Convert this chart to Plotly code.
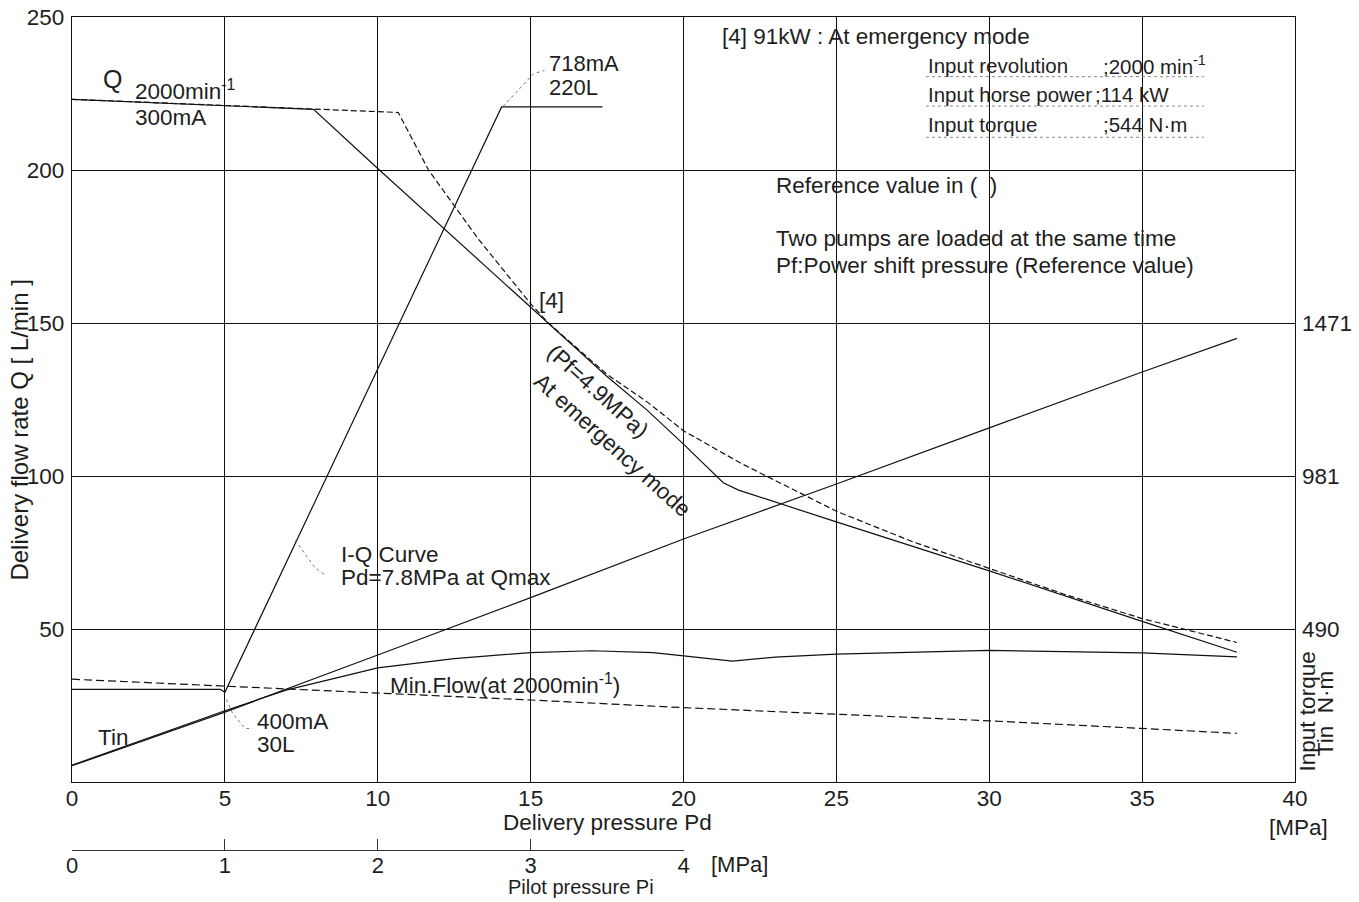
import plotly.graph_objects as go

# ---------------- data ----------------
pd_ticks = [0, 5, 10, 15, 20, 25, 30, 35, 40]
q_ticks = [50, 100, 150, 200, 250]
torque_tickvals = [490.35, 980.7, 1471.05]
torque_ticktext = ["490", "981", "1471"]
pilot_ticks = [0, 1, 2, 3, 4]

# Q curve at emergency mode (solid)
q_solid_x = [0, 7.9, 10, 12.5, 15, 15.58, 17.5, 18.8, 20, 21.3, 21.8, 25, 30, 35, 38.1]
q_solid_y = [223.1, 219.8, 200.5, 177.8, 155.2, 150.0, 132.5, 121.6, 110.4, 97.8, 95.4, 85.0, 69.0, 52.5, 42.4]

# Q curve reference (dashed)
q_dash_x = [0, 10.67, 11.66, 13.3, 15, 15.58, 17.5, 18.8, 20, 21.85, 25, 27.5, 30, 32.5, 35, 38.1]
q_dash_y = [223.1, 218.8, 200.0, 177.3, 156.3, 150.0, 133.2, 124.3, 114.8, 104.3, 88.5, 78.5, 69.8, 61.2, 53.4, 45.6]

# I-Q curve
iq_x = [0, 4.85, 5.0, 14.05, 17.35]
iq_y = [30.3, 30.3, 29.3, 220.6, 220.6]

# Min flow (solid)
mf_x = [0, 3, 5, 7, 8, 9.1, 10, 12.5, 15, 17, 19, 20, 21.6, 23, 25, 30, 35, 38.1]
mf_y = [5.5, 16.2, 23.3, 30.0, 32.5, 35.3, 37.3, 40.3, 42.3, 42.9, 42.3, 41.2, 39.5, 40.8, 41.8, 43.0, 42.2, 40.9]

# Min flow (dashed)
mfd_x = [0, 5, 10, 15, 20, 25, 30, 35, 38.1]
mfd_y = [33.6, 31.4, 29.0, 26.8, 24.3, 22.2, 20.0, 17.5, 15.9]

# Input torque Tin [N·m]
tin_x = [0, 5, 10, 15, 20, 25, 30, 35, 38.1]
tin_nm = [52, 224, 407, 591, 779, 955, 1135, 1314, 1422]

FONT = "Liberation Sans, Arial, sans-serif"
TXT = "#1e1e1e"
LINE = "#111111"

fig = go.Figure()

def line(x, y, dash="solid", width=1.2, color=LINE, yaxis="y"):
    fig.add_trace(go.Scatter(x=x, y=y, mode="lines", yaxis=yaxis,
                             line=dict(color=color, width=width, dash=dash),
                             hoverinfo="skip", showlegend=False))

line(q_solid_x, q_solid_y)
line(q_dash_x, q_dash_y, dash="6px,3px")
line(iq_x, iq_y)
line(mf_x, mf_y)
line(mfd_x, mfd_y, dash="8px,4px")
line(tin_x, tin_nm, yaxis="y2")

# invisible trace to build the pilot pressure axis
fig.add_trace(go.Scatter(x=[0], y=[-100], xaxis="x2", yaxis="y", mode="markers",
                         marker=dict(opacity=0), hoverinfo="skip", showlegend=False))

# leader lines (dotted)
leaders = [
    ([14.1, 15.1, 15.45], [220.8, 231.5, 232.5]),
    ([7.3, 7.95, 8.3], [79.0, 70.0, 67.5]),
    ([5.05, 5.25, 5.66, 5.9], [27.0, 22.5, 17.5, 17.5]),
]
for lx, ly in leaders:
    line(lx, ly, dash="dot", width=1, color="#777777")

# dotted underlines of the table
for uy in [230.5, 220.9, 210.7]:
    line([27.93, 37.02], [uy, uy], dash="dot", width=1, color="#888888")

ann = []
def txt(x, y, s, size=22.5, xanchor="left", yanchor="middle", angle=0, xref="x", yref="y"):
    ann.append(dict(x=x, y=y, xref=xref, yref=yref, text=s, showarrow=False,
                    xanchor=xanchor, yanchor=yanchor, textangle=angle,
                    font=dict(family=FONT, size=size, color=TXT)))

txt(0.95, 229.9, "Q", size=25)
txt(2.0, 226.3, "2000min<sup>-1</sup>")
txt(2.0, 217.2, "300mA")
txt(15.55, 234.8, "718mA", size=22)
txt(15.55, 227.1, "220L", size=22)
txt(21.2, 243.6, "[4] 91kW : At emergency mode")
txt(27.93, 234.0, "Input revolution", size=20.5)
txt(33.66, 234.3, ";2000 min<sup>-1</sup>", size=20.5)
txt(27.93, 224.6, "Input horse power", size=20.5)
txt(33.39, 224.6, ";114 kW", size=20.5)
txt(27.93, 214.8, "Input torque", size=20.5)
txt(33.66, 214.8, ";544 N·m", size=20.5)
txt(22.95, 194.8, "Reference value in (  )")
txt(22.95, 177.6, "Two pumps are loaded at the same time")
txt(22.95, 168.8, "Pf:Power shift pressure (Reference value)")
txt(15.2, 157.5, "[4]")
txt(17.2, 127.5, "(Pf=4.9MPa)", xanchor="center", angle=42)
txt(17.69, 110.1, "At emergency mode", xanchor="center", angle=42)
txt(8.73, 74.3, "I-Q Curve")
txt(8.73, 66.8, "Pd=7.8MPa at Qmax")
txt(10.34, 32.0, "Min.Flow(at 2000min<sup>-1</sup>)")
txt(0.8, 14.7, "Tin")
txt(5.99, 19.7, "400mA")
txt(5.99, 12.1, "30L")

# outside texts (paper coords)
txt(0.4375, 0.0336, "Delivery pressure Pd", xanchor="center", xref="paper", yref="paper")
txt(1.0025, 0.0276, "[MPa]", xanchor="center", xref="paper", yref="paper")
txt(0.5209, -0.0175, "[MPa]", size=22, xref="paper", yref="paper")
txt(0.4162, -0.0445, "Pilot pressure Pi", size=20, xanchor="center", xref="paper", yref="paper")
txt(-0.0437, 0.5042, "Delivery flow rate Q [ L/min ]", size=24, xanchor="center", angle=-90,
    xref="paper", yref="paper")
txt(1.0110, 0.1669, "Input torque", size=22.5, xanchor="center", angle=-90, xref="paper", yref="paper")
txt(1.0256, 0.1633, "Tin\u00a0 N·m", size=22.5, xanchor="center", angle=-90, xref="paper", yref="paper")

axis_font = dict(family=FONT, size=22.5, color=TXT)
pilot_font = dict(family=FONT, size=22, color=TXT)

fig.update_layout(
    width=1359, height=902,
    margin=dict(l=72, r=64, t=17, b=52),
    paper_bgcolor="white", plot_bgcolor="rgba(0,0,0,0)",
    showlegend=False,
    annotations=ann,
    xaxis=dict(range=[0, 40], tickvals=pd_ticks, ticks="", showgrid=True,
               gridcolor=LINE, gridwidth=1.2, showline=True, linecolor=LINE,
               linewidth=1.3, mirror=True, zeroline=False, tickfont=axis_font,
               anchor="y", automargin=False, ticklabelstandoff=-4),
    yaxis=dict(range=[0, 250], domain=[0.08163, 1], tickvals=q_ticks, ticks="",
               showgrid=True, gridcolor=LINE, gridwidth=1.2, showline=True,
               linecolor=LINE, linewidth=1.3, mirror=True, zeroline=False,
               tickfont=axis_font, ticklabelstandoff=2, automargin=False),
    yaxis2=dict(range=[0, 250 * 9.807], overlaying="y", side="right",
                tickvals=torque_tickvals, ticktext=torque_ticktext, ticks="",
                showgrid=False, showline=False, zeroline=False,
                tickfont=axis_font, ticklabelstandoff=6, automargin=False),
    xaxis2=dict(range=[0, 4], domain=[0, 0.5], anchor="free", position=0,
                tickvals=pilot_ticks, ticks="inside", ticklen=11, tickwidth=1.2,
                tickcolor="#333333", showline=True, linecolor="#333333",
                linewidth=1.3, showgrid=False, zeroline=False, tickfont=pilot_font,
                automargin=False, ticklabelstandoff=-5),
)

fig.write_html("out.html")
